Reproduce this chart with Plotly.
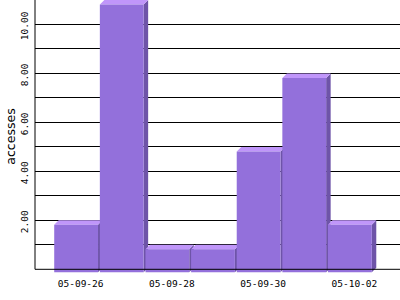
import plotly.graph_objects as go

# ---- data ----
dates = ["05-09-26", "05-09-27", "05-09-28", "05-09-29", "05-09-30", "05-10-01", "05-10-02"]
accesses = [2, 11, 1, 1, 5, 8, 2]
y_tick_values = [2, 4, 6, 8, 10]
x_label_every = 2

# ---- layout geometry ----
W, H = 400, 300
ML, MR, MT, MB = 35, 0, 0, 27
plot_w = W - ML - MR
plot_h = H - MT - MB
x_range = [-1, len(dates)]
y_top = 11
base_px = 269.3                      # pixel row of value 0
y_min = -y_top * (plot_h - base_px) / base_px
px_x = plot_w / (x_range[1] - x_range[0])
px_y = base_px / y_top
DX = 4.5 / px_x                       # 3D depth offset (x)
DY = 4.5 / px_y                       # 3D depth offset (y)
FRONT_BOTTOM = -3.0 / px_y
BAR_W = 0.96

FRONT = "rgb(147,112,219)"
TOP = "rgb(192,150,250)"
SIDE = "rgb(110,84,168)"

sx, sy, tx, ty, fx, fy = [], [], [], [], [], []
for i, v in enumerate(accesses):
    x0 = i - BAR_W / 2
    x1 = i + BAR_W / 2
    # side face (right)
    sx += [x1 - DX, x1, x1, x1 - DX, x1 - DX, None]
    sy += [v - DY, v, FRONT_BOTTOM + DY, FRONT_BOTTOM, v - DY, None]
    # top face
    tx += [x0 - DX, x1 - DX, x1, x0, x0 - DX, None]
    ty += [v - DY, v - DY, v, v, v - DY, None]
    # front face
    fx += [x0 - DX, x1 - DX, x1 - DX, x0 - DX, x0 - DX, None]
    fy += [FRONT_BOTTOM, FRONT_BOTTOM, v - DY, v - DY, FRONT_BOTTOM, None]

fig = go.Figure()
for xs, ys, col in [(sx, sy, SIDE), (tx, ty, TOP), (fx, fy, FRONT)]:
    fig.add_trace(go.Scatter(x=xs, y=ys, mode="lines", fill="toself",
                             fillcolor=col, line=dict(width=0, color=col),
                             hoverinfo="skip", showlegend=False))

grid_vals = list(range(1, y_top + 1))
grid_text = [f"{g:.2f}\u00a0" if g in y_tick_values else "" for g in grid_vals]

mono = "DejaVu Sans Mono"
fig.update_layout(
    width=W, height=H,
    margin=dict(l=ML, r=MR, t=MT, b=MB, pad=0),
    paper_bgcolor="white", plot_bgcolor="white",
    showlegend=False,
    xaxis=dict(range=x_range, tickvals=list(range(0, len(dates), x_label_every)),
               ticktext=dates[::x_label_every], showgrid=False, zeroline=False,
               showline=False, ticks="", ticklabelstandoff=3,
               tickfont=dict(family=mono, size=9.5, color="black"),
               fixedrange=True),
    yaxis=dict(range=[y_min, y_top], tickvals=grid_vals, ticktext=grid_text,
               showgrid=True, gridcolor="black", gridwidth=1, zeroline=False,
               showline=False, ticks="", tickangle=-90, ticklabelstandoff=4,
               tickfont=dict(family=mono, size=9.5, color="black"),
               title=dict(text="accesses", font=dict(family="DejaVu Sans", size=12.5, color="black"),
                          standoff=0),
               fixedrange=True),
    shapes=[
        dict(type="line", xref="paper", yref="y", x0=0, x1=1, y0=0, y1=0,
             line=dict(color="black", width=1), layer="above"),
        dict(type="line", xref="paper", yref="y", x0=0, x1=0, y0=0, y1=y_top,
             line=dict(color="black", width=1), layer="above"),
    ],
)

fig.write_html("out.html", config={"displayModeBar": False})
